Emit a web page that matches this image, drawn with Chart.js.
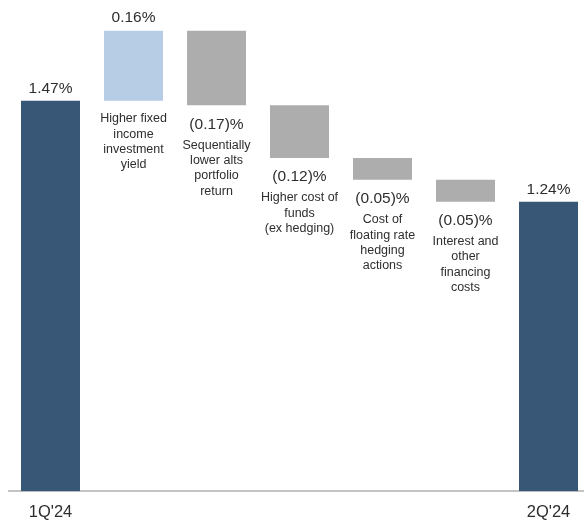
<!DOCTYPE html>
<html>
<head>
<meta charset="utf-8">
<script src="https://cdn.jsdelivr.net/npm/chart.js@4.4.1/dist/chart.umd.min.js"></script>
<style>
  html, body { margin: 0; padding: 0; background: #fff; overflow: hidden; }
  /* the baseline runs off the right edge, so the canvas is a bit wider than the window */
  #wrap { width: 590px; height: 537px; position: relative; }
</style>
</head>
<body>
<div id="wrap"><canvas id="bridge"></canvas></div>
<script>
// net yield bridge, 1Q'24 -> 2Q'24
const X_TICKS = ["1Q'24", "", "", "", "", "", "2Q'24"];
const START_VALUE = 1.47;
const DELTAS = [0.16, -0.17, -0.12, -0.05, -0.05];
const END_VALUE = 1.24;
const VALUE_LABELS = ["1.47%", "0.16%", "(0.17)%", "(0.12)%", "(0.05)%", "(0.05)%", "1.24%"];
const DESCRIPTIONS = [
  [],
  ["Higher fixed", "income", "investment", "yield"],
  ["Sequentially", "lower alts", "portfolio", "return"],
  ["Higher cost of", "funds", "(ex hedging)"],
  ["Cost of", "floating rate", "hedging", "actions"],
  ["Interest and", "other", "financing", "costs"],
  [],
];
const Y_MIN = 0.58;
const Y_MAX = 1.70;

const COLORS = {
  total: "#385675",
  up: "#b7cde5",
  down: "#adadad",
  text: "#2e2e2e",
  axis: "#c4c4c4",
};
const FONT = "'Liberation Sans', Arial, sans-serif";

// build floating [from, to] ranges for the waterfall
const ranges = [[Y_MIN, START_VALUE]];
const kinds = ["total"];
let running = START_VALUE;
DELTAS.forEach((d) => {
  const next = Math.round((running + d) * 100) / 100;
  ranges.push([running, next]);
  kinds.push(d >= 0 ? "up" : "down");
  running = next;
});
ranges.push([Y_MIN, END_VALUE]);
kinds.push("total");

const barLabels = {
  id: "barLabels",
  afterDatasetsDraw(chart) {
    const ctx = chart.ctx;
    const meta = chart.getDatasetMeta(0);
    ctx.save();
    ctx.fillStyle = COLORS.text;
    ctx.textAlign = "center";
    ctx.textBaseline = "middle";
    meta.data.forEach((bar, i) => {
      const top = Math.min(bar.y, bar.base);
      const bottom = Math.max(bar.y, bar.base);
      const kind = kinds[i];
      ctx.font = `15.5px ${FONT}`;
      let descY;
      if (kind === "total") {
        ctx.fillText(VALUE_LABELS[i], bar.x, top - 12);
        return;
      } else if (kind === "up") {
        ctx.fillText(VALUE_LABELS[i], bar.x, top - 13);
        descY = bottom + 18;
      } else {
        ctx.fillText(VALUE_LABELS[i], bar.x, bottom + 19);
        descY = bottom + 40;
      }
      ctx.font = `12.5px ${FONT}`;
      DESCRIPTIONS[i].forEach((line, k) => {
        ctx.fillText(line, bar.x, descY + k * 15.3);
      });
    });
    ctx.restore();
  },
};

new Chart(document.getElementById("bridge"), {
  type: "bar",
  data: {
    labels: X_TICKS,
    datasets: [
      {
        data: ranges,
        backgroundColor: kinds.map((k) => COLORS[k]),
        borderWidth: 0,
        barPercentage: 1,
        categoryPercentage: 59 / 83,
      },
    ],
  },
  options: {
    responsive: true,
    maintainAspectRatio: false,
    animation: false,
    layout: { padding: { left: 9, right: 0, top: 0, bottom: 4 } },
    plugins: { legend: { display: false }, tooltip: { enabled: false } },
    scales: {
      x: {
        offset: true,
        grid: { display: false, drawTicks: false },
        border: { display: true, color: COLORS.axis, width: 2 },
        ticks: {
          color: COLORS.text,
          padding: 11,
          maxRotation: 0,
          autoSkip: false,
          font: { family: FONT, size: 16.5 },
        },
      },
      y: {
        display: false,
        min: Y_MIN,
        max: Y_MAX,
      },
    },
  },
  plugins: [barLabels],
});
</script>
</body>
</html>
